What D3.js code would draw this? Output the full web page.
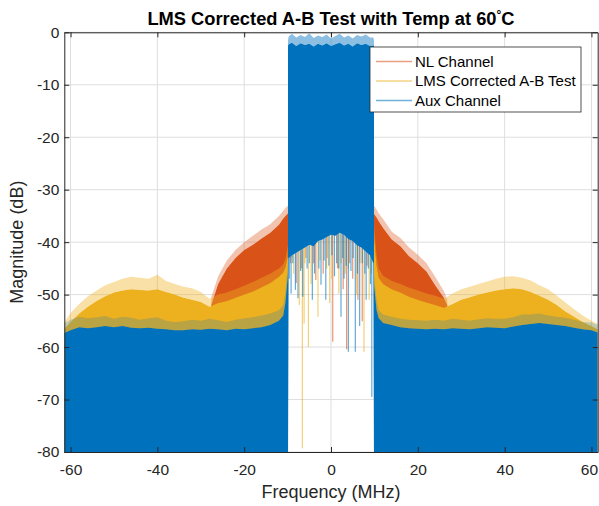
<!DOCTYPE html>
<html>
<head>
<meta charset="utf-8">
<script src="https://cdn.jsdelivr.net/npm/d3@7"></script>
<style>
  body { margin: 0; background: #fff; }
  svg { display: block; font-family: "Liberation Sans", Arial, Helvetica, sans-serif; }
</style>
</head>
<body>
<svg id="chart" width="599" height="506"></svg>
<script>
// frequency grids (MHz)
var leftF = [-61.44, -60, -58, -56, -54, -52, -50, -48, -46, -44, -42, -40, -38, -36, -34, -32,
    -30, -28, -26, -24, -22, -20, -18, -16, -14, -12, -11, -10.5, -9.9];
var rightF = [9.9, 10.5, 11, 12, 14, 16, 18, 20, 22, 24, 26, 28, 30, 32, 34, 36, 38, 40,
    42, 44, 46, 48, 50, 52, 54, 56, 58, 60, 61.44];
var inF = [-9.9, -9.75, -9, -8, -7, -6, -5, -4, -3, -2, -1, 0, 1, 2, 3, 4, 5, 6, 7, 8, 9, 9.75, 9.9];

// Aux channel (blue), dB
var auxLeftBody = [-57.3, -56.8, -56.2, -56.4, -56.2, -56, -56.2, -56, -56.3, -56.4, -56.3, -56.5, -56.6, -56.8, -56.8, -56.6,
    -56.7, -56.5, -56.6, -56.8, -56.5, -56.6, -56.4, -56.2, -55.8, -55, -54, -51.5, -46];
var auxLeftPeak = [-55.5, -54.8, -54.2, -54.5, -54.3, -54.1, -54.6, -54.2, -54.4, -54.8, -54.5, -54.3, -55, -55.2, -55.1, -54.8,
    -55, -54.6, -54.9, -55.2, -54.8, -54.5, -54.3, -54, -53.6, -53, -52, -49.5, -44];
var auxRightBody = [-48, -53, -54.5, -55.4, -55.8, -56.2, -56.4, -56.5, -56.6, -56.5, -56.6, -56.4, -56.5, -56.6, -56.4, -56.2,
    -56.3, -56.4, -56.1, -55.8, -55.6, -55.4, -55.6, -55.8, -56, -56.3, -56.6, -56.8, -57.2];
var auxRightPeak = [-46, -51, -53, -53.8, -54.2, -54.6, -54.8, -54.9, -55, -54.8, -55, -54.6, -54.8, -55, -54.7, -54.5,
    -54.6, -54.6, -54.3, -53.8, -53.8, -53.6, -54, -54.2, -54.4, -54.8, -55.2, -55.3, -55.8];
var auxInTop = [-2.5, -2.3, -2.0, -2.6, -2.1, -2.4, -2.2, -2.7, -2.2, -2.5, -2.1, -2.6, -2.3, -2.0, -2.5, -2.2,
    -2.7, -2.1, -2.4, -2.2, -2.6, -2.5, -2.5];
var auxInPeak = [-1.5, -0.8, -0.3, -1.0, -0.5, -0.9, -0.2, -1.1, -0.6, -0.9, -0.4, -1.2, -0.7, -0.3, -1.0, -0.6,
    -1.2, -0.5, -0.8, -0.4, -1.0, -1.0, -1.5];
var auxInLow = [-80, -43, -42.5, -42, -41.5, -41, -40.5, -40.8, -39.8, -39.5, -39, -38.6, -38.8, -38.2, -38.6, -39.4,
    -39.8, -40.6, -41, -41.8, -42.5, -44, -80];

// LMS corrected A-B test (yellow), dB
var lmsLeftBody = [-56.5, -55.2, -53.6, -52.3, -51.2, -50.3, -49.6, -49.2, -49, -49.1, -49.2, -49, -49.5, -50, -50.6, -51,
    -51.4, -52.3, -51.6, -51.2, -50.6, -50, -49.4, -48.6, -47.8, -46.6, -45.8, -44.8, -42.5];
var lmsLeftPeak = [-55.3, -53.5, -51.8, -50.3, -49.2, -48.2, -47.6, -47, -46.6, -46.8, -47, -46.2, -47.4, -48, -48.5, -48.8,
    -49.5, -50.8, -50, -49.6, -49, -48.3, -47.6, -46.8, -46, -45, -44.2, -43.2, -40.5];
var lmsRightBody = [-38.5, -44.5, -46.8, -48, -49, -49.6, -50.4, -51, -51.5, -52, -52.5, -51.8, -51, -50.5, -50, -49.6,
    -49.2, -49, -48.8, -49, -49.5, -50.2, -51, -52, -53.2, -54.2, -55.2, -56, -56.6];
var lmsRightPeak = [-36.5, -42.5, -45, -46.4, -47.4, -48, -48.7, -49.2, -49.8, -50.2, -50.8, -49.8, -49, -48.5, -48, -47.5,
    -47, -46.6, -46.5, -46.8, -47.3, -48.2, -49, -50.2, -51.5, -52.8, -54, -55, -55.6];

// NL channel (orange), dB
var nlLeftF = [-27.6, -26, -24, -22, -20, -18, -16, -14, -12, -11, -10.5, -9.9];
var nlLeftBody = [-52, -48, -45, -43, -41.5, -40.5, -39.3, -38.2, -36.7, -35.5, -35, -34.5];
var nlLeftPeak = [-50.5, -46.5, -43.5, -41.5, -40, -38.8, -37.6, -36.6, -35, -34, -33.5, -33];
var nlRightF = [9.9, 10.5, 11, 12, 14, 16, 18, 20, 22, 24, 26, 26.8];
var nlRightBody = [-34.6, -35.3, -36, -37.3, -39.5, -40.8, -42.7, -44, -45.6, -48.2, -50.6, -52];
var nlRightPeak = [-33, -33.8, -34.5, -35.6, -38, -39.2, -41, -42.4, -44, -46.6, -49.3, -51];

// in-band dips [MHz, dB]
var auxDips = [[-9.6, -47], [-9.2, -49.8], [-8.8, -44], [-8.2, -49.1], [-7.6, -50.7], [-7, -45.5], [-6.5, -50.4],
    [-5.5, -45], [-5, -44], [-4.3, -51], [-3.8, -46], [-2.8, -45], [-2.3, -48.1], [-1.6, -43.5], [-1.2, -51],
    [-0.5, -44.5], [0.2, -42.5], [0.8, -46.5], [1.3, -44], [1.8, -45], [2.3, -54.2], [2.7, -43], [3, -47],
    [3.5, -44.5], [4.0, -60.9], [4.6, -45.5], [5.1, -43], [5.6, -60.9], [6.1, -46], [6.6, -56], [7.2, -44],
    [7.8, -46], [8.1, -51], [8.6, -45], [9.1, -48], [9.4, -69.5]];
var nlDips = [[-9.3, -44], [-8, -47.8], [-6.8, -45], [-5.8, -43], [-4, -44], [-3.5, -47.2], [-1.8, -46],
    [-0.9, -43], [0.4, -59], [1.5, -45], [2.8, -49], [3.6, -60.4], [4.3, -44], [5, -47], [6.2, -51],
    [7.2, -55.1], [8.3, -44.5]];
var lmsDips = [[-9, -43], [-8.6, -46], [-7.3, -52], [-6.6, -79.3], [-6.2, -55.5], [-6, -44], [-5.2, -60],
    [-4.6, -48], [-3, -54.2], [-2.5, -43.5], [-1, -45], [-0.3, -51.6], [0.2, -47], [1.8, -49.8], [2.3, -44],
    [3.3, -46], [4, -45], [5.9, -50], [6.7, -44], [7.6, -60.9], [8.8, -51], [9.3, -46]];

var xTicks = [-60, -40, -20, 0, 20, 40, 60];
var yTicks = [-80, -70, -60, -50, -40, -30, -20, -10, 0];
var seriesNames = ["NL Channel", "LMS Corrected A-B Test", "Aux Channel"];
var seriesColors = ["#D95319", "#EDB120", "#0072BD"];

d3.select(window).on("load", init);

function init() {
    var svg = d3.select("#chart");
    var padL = 64.3, padR = 597.7, padT = 32.3, padB = 452;
    var axisColor = "#262626";

    var x = d3.scaleLinear().domain([-61.44, 61.44]).range([padL, padR]);
    var y = d3.scaleLinear().domain([-80, 0]).range([padB, padT]);

    svg.append("defs").append("clipPath").attr("id", "plotclip")
        .append("rect").attr("x", padL).attr("y", padT).attr("width", padR - padL).attr("height", padB - padT);

    // grid
    var grid = svg.append("g").attr("stroke", "#dedede").attr("stroke-width", 1);
    grid.selectAll(".gx").data(xTicks).enter().append("line")
        .attr("x1", function(d) { return x(d); }).attr("x2", function(d) { return x(d); })
        .attr("y1", padT).attr("y2", padB);
    grid.selectAll(".gy").data(yTicks).enter().append("line")
        .attr("y1", function(d) { return y(d); }).attr("y2", function(d) { return y(d); })
        .attr("x1", padL).attr("x2", padR);

    var plot = svg.append("g").attr("clip-path", "url(#plotclip)");

    function zip(fs, vs) {
        return fs.map(function(f, i) { return [f, vs[i]]; });
    }
    // filled down to the floor
    var floorArea = d3.area()
        .x(function(d) { return x(d[0]); })
        .y0(y(-80))
        .y1(function(d) { return y(d[1]); });
    // band between two values
    var bandArea = d3.area()
        .x(function(d) { return x(d[0]); })
        .y0(function(d) { return y(d[1]); })
        .y1(function(d) { return y(d[2]); });

    function drawOuter(fs, body, peak, color, fringe) {
        plot.append("path").datum(fs.map(function(f, i) { return [f, body[i], peak[i]]; }))
            .attr("d", bandArea).attr("fill", color).attr("opacity", fringe);
        plot.append("path").datum(zip(fs, body)).attr("d", floorArea)
            .attr("fill", color);
    }
    function drawDips(dips, color) {
        plot.selectAll(null).data(dips).enter().append("line")
            .attr("x1", function(d) { return x(d[0]); }).attr("x2", function(d) { return x(d[0]); })
            .attr("y1", y(-36)).attr("y2", function(d) { return y(d[1]); })
            .attr("stroke", color).attr("stroke-width", 1.2).attr("opacity", 0.6);
    }

    // NL channel
    drawOuter(nlLeftF, nlLeftBody, nlLeftPeak, seriesColors[0], 0.35);
    drawOuter(nlRightF, nlRightBody, nlRightPeak, seriesColors[0], 0.35);
    drawDips(nlDips, seriesColors[0]);
    // LMS corrected
    drawOuter(leftF, lmsLeftBody, lmsLeftPeak, seriesColors[1], 0.4);
    drawOuter(rightF, lmsRightBody, lmsRightPeak, seriesColors[1], 0.4);
    drawDips(lmsDips, seriesColors[1]);
    // Aux channel
    drawOuter(leftF, auxLeftBody, auxLeftPeak, seriesColors[2], 0.22);
    drawOuter(rightF, auxRightBody, auxRightPeak, seriesColors[2], 0.22);
    drawDips(auxDips, seriesColors[2]);
    plot.append("path").datum(inF.map(function(f, i) { return [f, auxInTop[i], auxInPeak[i]]; }))
        .attr("d", bandArea).attr("fill", seriesColors[2]).attr("opacity", 0.45);
    plot.append("path").datum(inF.map(function(f, i) { return [f, auxInLow[i], auxInTop[i]]; }))
        .attr("d", bandArea).attr("fill", seriesColors[2]);

    // axes (ticks inward, box on)
    function styleAxis(g) {
        g.select(".domain").attr("stroke", axisColor);
        g.selectAll(".tick line").attr("stroke", axisColor);
        g.selectAll(".tick text").attr("fill", axisColor).style("font-size", "15.5px")
            .style("font-family", "'Liberation Sans', Arial, sans-serif");
    }
    var fmt = function(d) { return String(d); };
    var xAxisG = svg.append("g").attr("transform", "translate(0," + padB + ")")
        .call(d3.axisBottom(x).tickValues(xTicks).tickFormat(fmt).tickSizeInner(-5).tickSizeOuter(0).tickPadding(12))
        .call(styleAxis);
    // keep the last label inside the figure
    xAxisG.selectAll(".tick text").filter(function(d) { return d === 60; }).attr("dx", -2.5);
    svg.append("g").attr("transform", "translate(0," + padT + ")")
        .call(d3.axisTop(x).tickValues(xTicks).tickSizeInner(-5).tickSizeOuter(0).tickFormat(""))
        .call(styleAxis);
    svg.append("g").attr("transform", "translate(" + padL + ",0)")
        .call(d3.axisLeft(y).tickValues(yTicks).tickFormat(fmt).tickSizeInner(-5).tickSizeOuter(0).tickPadding(5))
        .call(styleAxis);
    svg.append("g").attr("transform", "translate(" + padR + ",0)")
        .call(d3.axisRight(y).tickValues(yTicks).tickSizeInner(-5).tickSizeOuter(0).tickFormat(""))
        .call(styleAxis);

    // labels
    var title = svg.append("text").attr("x", (padL + padR) / 2).attr("y", 25)
        .attr("text-anchor", "middle").style("font-size", "18.3px").style("font-weight", "bold").attr("fill", "#000");
    title.append("tspan").text("LMS Corrected A-B Test with Temp at 60");
    title.append("tspan").attr("dy", -6).style("font-size", "12px").text("°");
    title.append("tspan").attr("dy", 6).text("C");

    svg.append("text").attr("x", (padL + padR) / 2).attr("y", 498)
        .attr("text-anchor", "middle").style("font-size", "18px").attr("fill", axisColor)
        .text("Frequency (MHz)");
    svg.append("text").attr("transform", "translate(23," + ((padT + padB) / 2) + ") rotate(-90)")
        .attr("text-anchor", "middle").style("font-size", "18px").attr("fill", axisColor)
        .text("Magnitude (dB)");

    // legend
    var legend = svg.append("g").attr("transform", "translate(370,47)");
    legend.append("rect").attr("width", 211).attr("height", 65)
        .attr("fill", "#fff").attr("stroke", axisColor).attr("stroke-width", 0.8);
    var rows = legend.selectAll(".row").data(seriesNames).enter().append("g")
        .attr("transform", function(d, i) { return "translate(0," + (14.5 + i * 19.5) + ")"; });
    rows.append("line").attr("x1", 6).attr("x2", 42)
        .attr("stroke", function(d, i) { return seriesColors[i]; })
        .attr("stroke-width", 1.6).attr("opacity", 0.55);
    rows.append("text").attr("x", 45).attr("dy", "0.35em").style("font-size", "15px").attr("fill", "#000")
        .text(function(d) { return d; });
}
</script>
</body>
</html>
